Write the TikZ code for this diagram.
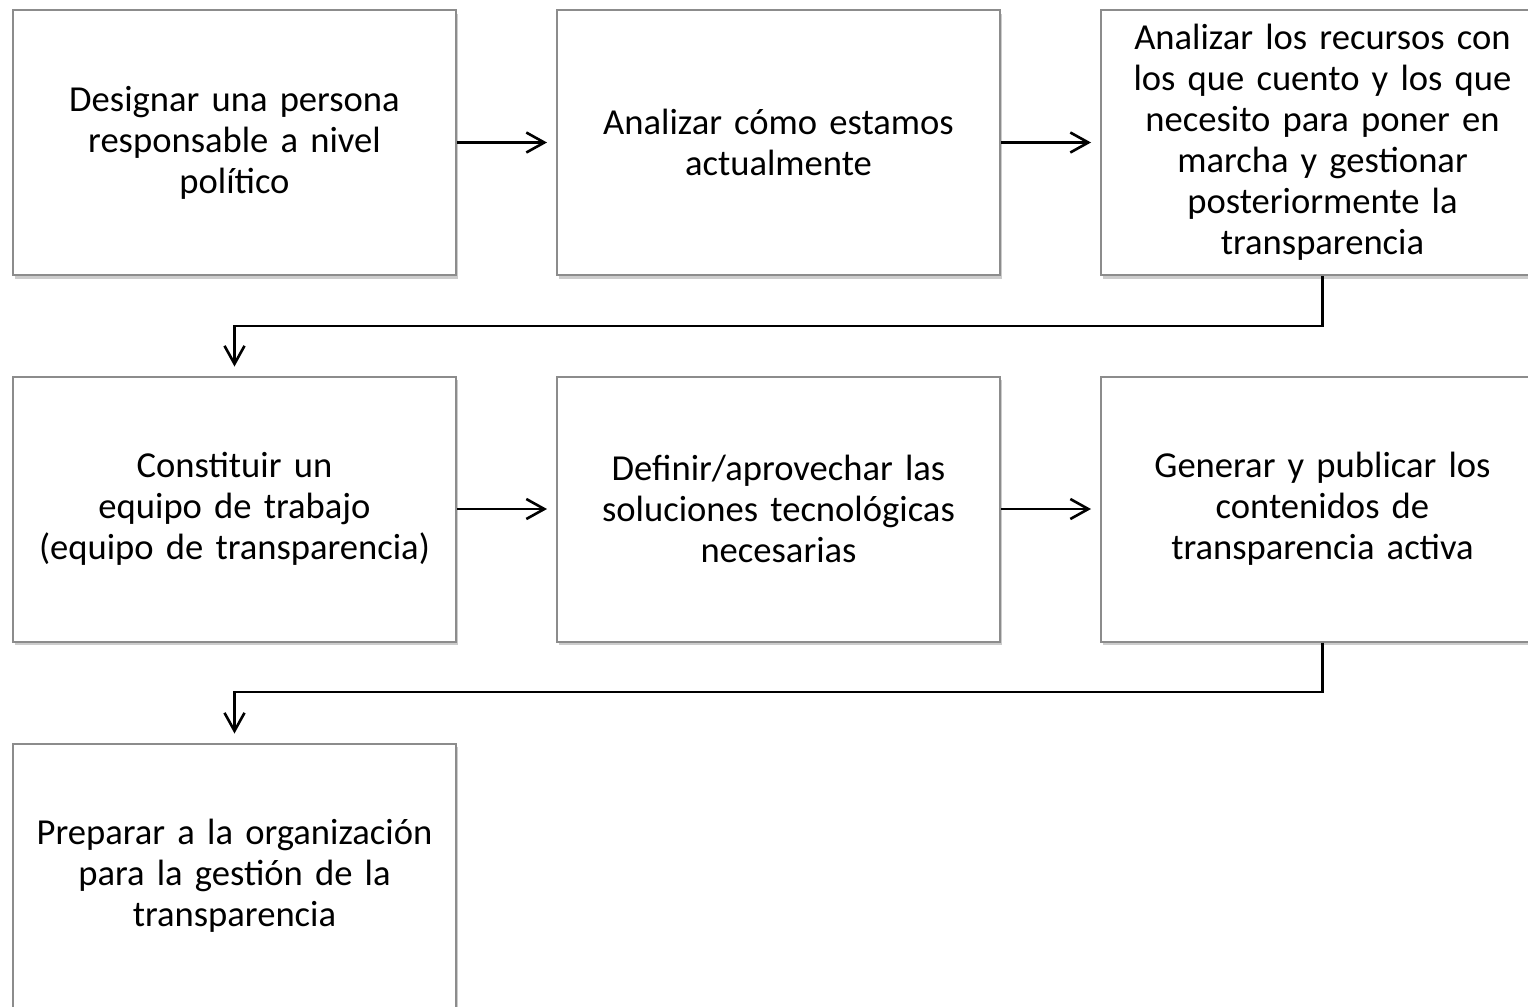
\documentclass[tikz,border=0pt]{standalone}
\usepackage{fontspec}
\setmainfont{Carlito}
\usetikzlibrary{arrows.meta,shadows}

\tikzset{
  paso/.style={draw=black!45,line width=1pt,fill=white,
    drop shadow={shadow xshift=0.8pt,shadow yshift=-1.8pt,opacity=0.4},
    minimum width=221.5pt,minimum height=132.5pt,inner sep=0pt,
    align=center,text width=218pt,
    font=\fontsize{18.3}{20.5}\selectfont},
  flecha/.style={-{Straight Barb[length=9pt,width=10pt,line width=1.3pt]},
    line width=1.3pt,shorten >=4.5pt}
}

\begin{document}
\begin{tikzpicture}[x=0.5pt,y=-0.5pt]
  \useasboundingbox (0,0) rectangle (1528,1007);
  \clip (0,0) rectangle (1528,1007);
  % primera fila
  \node[paso] (A) at (234.5,142.5) {Designar una persona\\responsable a nivel\\político};
  \node[paso] (B) at (778.5,142.5) {Analizar cómo estamos\\actualmente};
  \node[paso] (C) at (1322.5,142.5) {Analizar los recursos con\\los que cuento y los que\\necesito para poner en\\marcha y gestionar\\posteriormente la\\transparencia};
  % segunda fila
  \node[paso] (D) at (234.5,509) {Constituir un\\equipo de trabajo\\(equipo de transparencia)};
  \node[paso] (E) at (778.5,509) {Definir/aprovechar las\\soluciones tecnológicas\\necesarias};
  \node[paso] (F) at (1322.5,509) {Generar y publicar los\\contenidos de\\transparencia activa};
  % tercera fila
  \node[paso] (G) at (234.5,876) {Preparar a la organización\\para la gestión de la\\transparencia};
  \coordinate (K1) at (1322.5,326);
  \coordinate (K2) at (1322.5,692);
  \draw[flecha] (A) -- (B);
  \draw[flecha] (B) -- (C);
  \draw[flecha] (C.south) -- (K1) -| (D.north);
  \draw[flecha] (D) -- (E);
  \draw[flecha] (E) -- (F);
  \draw[flecha] (F.south) -- (K2) -| (G.north);
\end{tikzpicture}
\end{document}
